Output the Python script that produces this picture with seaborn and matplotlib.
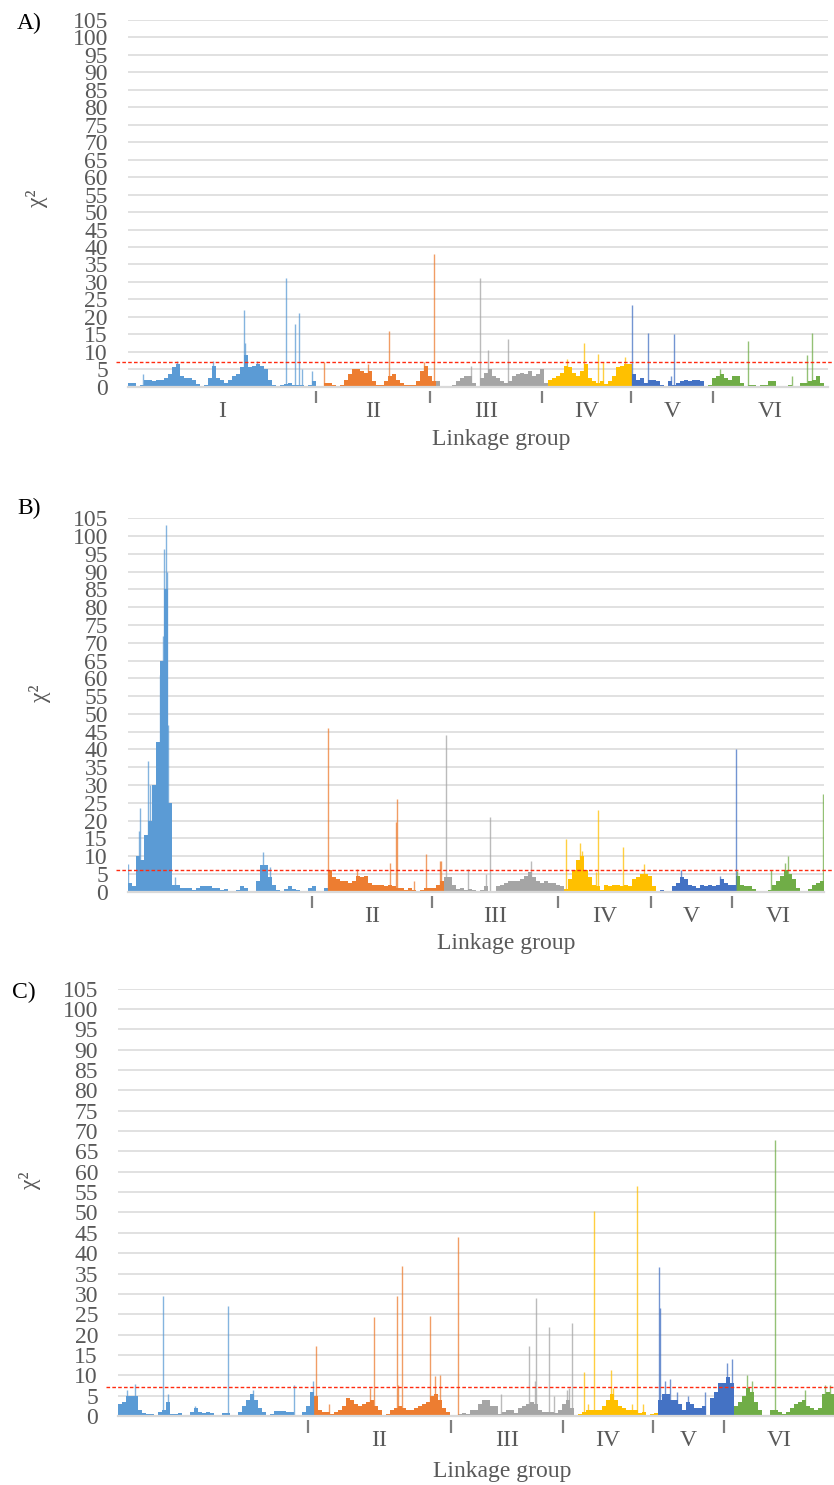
import numpy as np
import pandas as pd
import matplotlib
matplotlib.use("Agg")
import matplotlib.pyplot as plt
import seaborn as sns

# linkage groups and their (Excel office) colours
group_names = ["I", "II", "III", "IV", "V", "VI"]
group_colors = ["#5B9BD5", "#ED7D31", "#A5A5A5", "#FFC000", "#4472C4", "#70AD47"]
y_ticks = list(range(0, 106, 5))

# ---------------- panel A ----------------
# chi2 per marker bin
a_chi2 = [1, 1.2, 0.3, 0.5, 2, 2, 1.5, 2, 2, 2.5, 3.5, 5.5, 6.5, 3, 2.5, 2.5, 2, 0.8, 0.3, 0.5,
          2.5, 6, 2.5, 2, 1, 2, 3, 3.5, 5.5, 9, 5.5, 6, 6.5, 6, 5, 2, 0.5, 0.3, 0.5, 0.8,
          1, 0.5, 0.5, 0.5, 0.1, 0.5, 1.5,
          0.3, 0.3, 1, 1, 0.5, 0.3, 0.5, 2, 3.5, 5, 5, 4.5, 4, 4.5, 1.5, 0.5, 0.5, 1.5, 3, 3.5,
          2, 1, 0.5, 0.5, 0.5, 1.5, 4.5, 6, 3,
          1.5, 1.5, 0.3, 0.2, 0.3, 0.5, 1.5, 2.5, 3, 3, 1, 0.3, 2.5, 4, 5, 3, 2.5, 1.5, 1, 1.5,
          3, 3.5, 4, 3.5, 4.5, 3, 3.5, 5,
          1, 2, 2.5, 3, 4, 6, 5.5, 4, 3, 4.5, 6.5, 2.5, 1.5, 1, 1.5, 0.8, 1.5, 3, 5.5, 6, 6.5, 6.5,
          3.5, 2, 2.5, 1, 2, 2, 1.5, 0.5, 0.2, 1.5, 0.5, 1, 1.5, 2, 1.5, 2, 2, 1.5, 0, 0.5,
          2.5, 3, 3.5, 2.5, 2, 3, 3, 1, 0.3, 0.5, 0.5, 0.3, 0.5, 0.5, 1.5, 1.5, 0.2, 0.1, 0.1, 0.5,
          0.1, 0.3, 1, 1, 1.5, 2, 3, 1, 0.3]
a_group_sizes = [49, 28, 28, 21, 19, 30]
a_spike_pos = [3.8, 12.2, 21.2, 29.1, 29.3, 32.2, 39.4, 41.75, 42.75, 43.5, 45.9,
               49.0, 60.1, 65.2, 74.0, 76.6,
               85.75, 88.0, 90.1, 95.0,
               109.7, 114.1, 117.6, 118.8, 124.25,
               126.1, 130.1, 135.8, 136.6,
               148.0, 155.1, 165.9, 169.7, 171.1]
a_spike_chi2 = [3.5, 7.5, 7.5, 22, 12.5, 7.5, 31, 18, 21, 5, 4.5,
                7, 6.5, 16, 7, 38,
                6, 31, 10.5, 13.6,
                8, 12.5, 9.5, 7, 8.5,
                23.5, 15.5, 3, 15,
                5, 13, 3, 9, 15.5]
a_threshold = 7.0
a_separators = [47, 75.5, 103.5, 125.75, 146.25]

# ---------------- panel B ----------------
b_chi2 = [2.5, 1.5, 10, 9, 16, 20, 30, 42, 65, 85, 25, 2, 2, 1, 1, 1, 0.5, 1, 1.5, 1.5,
          1.5, 1, 1, 0.5, 0.8, 0.3, 0.3, 0.5, 1.5, 1, 0.3, 0.2, 3, 7.5, 7.5, 4, 2, 0.5, 0.3, 0.8,
          1.5, 0.8, 0.5, 0.2, 0.3, 1,
          1.5, 0.3, 0.3, 1, 6, 4, 3.5, 3, 3, 2.5, 3, 4.5, 4, 4.5, 2.5, 2, 2, 2, 1.5, 2,
          1.5, 1, 1, 0.5, 1, 0.5, 0.3, 0.5, 1, 1,
          1, 2, 3, 4, 4, 2, 0.8, 1, 0.5, 0.8, 0.5, 0.3, 0.5, 1.5, 0.3, 0.3, 1.5, 2, 2.5, 3,
          3, 3, 3.5, 4.5, 5.5, 4, 3, 2.5, 3, 2.5, 2.5,
          2, 1.5, 0.8, 3.5, 6, 9, 10, 6, 4, 2, 1.5, 0.5, 2, 1.5, 2, 2, 1.5, 2, 1.5, 3.5,
          4, 5, 5, 4.5,
          1.5, 0.2, 0.5, 0.1, 0.1, 1.5, 2.5, 4, 3.5, 2, 1.5, 1, 2, 1.5, 2, 1.5, 2, 3.5, 2.5, 2,
          2, 4.5, 2, 1.5, 1.5, 0.8, 0.3, 0.2, 0.2, 0.5, 2, 3, 4.5, 6, 5, 3.5, 1, 0.2, 0.2, 0.8,
          2, 2.5, 3]
b_group_sizes = [50, 29, 30, 23, 20, 22]
b_spike_pos = [0.1, 2.8, 3.1, 5.1, 5.5, 8.0, 8.7, 9.1, 9.5, 9.8, 10.1, 11.75, 33.8, 35.5,
               50.05, 57.2, 65.4, 67.0, 67.2, 71.4, 74.4, 77.9, 78.3,
               79.6, 85.1, 89.5, 90.4, 100.75,
               109.6, 113.0, 113.4, 117.0, 117.6, 123.8, 129.0,
               138.2, 148.0, 151.9,
               152.2, 160.75, 164.25, 165.1, 173.8]
b_spike_chi2 = [7.8, 17, 23.4, 36.7, 30, 61, 72, 96.5, 103, 90, 47, 4, 11.2, 7,
                46, 6.5, 8, 19.5, 26, 3, 10.7, 8.5, 8.5,
                44, 6.5, 5, 21, 8.6,
                14.8, 13.8, 11.5, 5.4, 22.9, 12.6, 7.8,
                6, 4.5, 40,
                5.9, 6, 8, 10.1, 27.4]
b_threshold = 6.1
b_separators = [46, 76, 107.4, 130.75, 150.9]

# ---------------- panel C ----------------
c_chi2 = [3, 3.5, 5, 5, 5, 1.5, 0.8, 0.5, 0.5, 0.3, 1, 1.5, 3.5, 0.5, 0.5, 0.8, 0.2, 0.2, 1, 2,
          1, 0.8, 1, 0.8, 0.2, 0.2, 0.8, 0.8, 0.3, 0.3, 1, 2.5, 4, 5.5, 4, 2, 1, 0.3, 0.5, 1.2,
          1.2, 1.2, 1, 1, 0.3, 0.2, 1, 2.5,
          6, 5, 1.5, 1, 1, 0.5, 1, 1.5, 2.5, 4.5, 4, 3, 2.5, 3, 3.5, 4, 2.5, 1.5, 0.3, 0.5,
          1.5, 2, 2.5, 2, 1.5, 1.5, 2, 2.5, 3, 3.5, 5, 5.5, 4, 2, 1,
          0.3, 0.3, 0.5, 0.8, 0.5, 1.5, 1.5, 3, 4, 4, 2.5, 2.5, 0.5, 1, 1.5, 1.5, 0.8, 2, 2.5, 3,
          3.5, 3, 1.5, 1, 1, 1, 0.8, 1.5,
          3, 4, 2, 0.3, 0.5, 1, 1.5, 1.5, 1.5, 1.5, 2.5, 4, 5.5, 4, 2.5, 2, 1.5, 1.5, 1.5, 0.8,
          1, 0.3, 0.5,
          0.8, 4, 5.5, 5.5, 4, 4, 3, 1.5, 3.5, 3, 2, 2, 2.5, 0.3, 4.5, 6, 8,
          8, 9.5, 8, 2.5, 3.5, 5, 7, 6, 3.5, 1.5, 0.3, 0.3, 1.5, 1.5, 1, 0.5, 1, 2, 3, 3.5,
          4, 2.5, 2, 1.5, 2, 5.5, 6, 5.5]
c_group_sizes = [49, 36, 29, 21, 19, 25]
c_spike_pos = [2.2, 4.25, 11.3, 12.6, 19.25, 27.6, 33.7, 44.1, 48.8,
               49.4, 52.8, 63.0, 64.1, 69.7, 69.9, 71.1, 78.0, 79.25, 80.5, 84.9,
               95.75, 102.8, 104.3, 104.5, 107.8, 109.1, 112.2, 112.75, 113.4,
               116.6, 117.6, 119.0, 123.25, 123.7, 128.4, 129.75, 131.3,
               135.3, 135.4, 136.75, 138.0, 139.7, 142.6, 146.75, 152.2, 153.4,
               157.2, 158.4, 164.25, 171.75, 176.75, 178.0]
c_spike_chi2 = [6.5, 7.8, 29.5, 5.5, 2.5, 27, 6.5, 7.6, 8.5,
                17.2, 3, 7, 24.4, 29.5, 7.5, 36.8, 24.5, 9.9, 10, 44,
                5.5, 17.3, 8.5, 28.9, 21.8, 5, 6.5, 7, 22.8,
                10.8, 3, 50.4, 11.3, 7, 3, 56.5, 3,
                36.5, 26.5, 8.5, 9, 6, 5, 6, 13, 14,
                10.1, 8.5, 67.8, 6.5, 7.5, 7.5]
c_threshold = 7.1
c_separators = [47.5, 83.2, 111.25, 133.7, 151.5]

FIG_W, FIG_H = 834, 1485
GREY = "#595959"
FS = 17

sns.set_theme(style="white")
plt.rcParams["font.family"] = ["Liberation Serif", "DejaVu Serif"]

palette = dict(zip(group_names, group_colors))


def px_axes(left, right, top, bottom):
    """axes rectangle from pixel box of the reference"""
    return [left / FIG_W, 1 - bottom / FIG_H, (right - left) / FIG_W, (bottom - top) / FIG_H]


def draw_panel(ax, chi2, sizes, spike_pos, spike_chi2, threshold, separators, show_first):
    n = len(chi2)
    df = pd.DataFrame({
        "pos": np.arange(n) + 0.5,
        "chi2": chi2,
        "group": np.repeat(group_names, sizes[:len(group_names)])[:n],
    })
    sns.barplot(data=df, x="pos", y="chi2", hue="group", hue_order=group_names,
                palette=palette, native_scale=True, dodge=False, width=1.0,
                errorbar=None, legend=False, saturation=1, linewidth=0, ax=ax, zorder=2)

    # single markers with a high value drawn as thin lines
    bounds = np.cumsum(sizes)
    idx = np.searchsorted(bounds, np.floor(spike_pos), side="right")
    spike_cols = [group_colors[min(i, 5)] for i in idx]
    ax.vlines(spike_pos, 0, spike_chi2, colors=spike_cols, linewidth=1.0, alpha=0.75, zorder=2.5)

    ax.set_xlim(0, n)
    ax.set_ylim(0, 105)
    ax.set_yticks(y_ticks)
    ax.set_xticks([])
    ax.set_xlabel("")
    ax.set_ylabel("")
    ax.grid(axis="y", color="#d9d9d9", linewidth=1.1)
    ax.set_axisbelow(True)
    for side in ["top", "right", "left"]:
        ax.spines[side].set_visible(False)
    ax.spines["bottom"].set_color("#d9d9d9")
    ax.spines["bottom"].set_linewidth(1.6)
    ax.tick_params(axis="y", length=0, pad=14.4, labelsize=FS, labelcolor=GREY)

    # threshold line, sticking out a little past the plot like in Excel
    w_px = ax.get_position().width * FIG_W
    h_px = ax.get_position().height * FIG_H
    ax.axhline(threshold, xmin=-12 / w_px, xmax=1 + 8 / w_px, color="#ff2b10",
               linewidth=1.0, linestyle=(0, (2.6, 1.6)), clip_on=False, zorder=3)

    # group separator ticks and labels under the axis
    tr = ax.get_xaxis_transform()
    ax.vlines(separators, -16.5 / h_px, -4 / h_px, transform=tr, colors="#7f7f7f",
              linewidth=1.6, clip_on=False)
    edges = [0] + list(separators) + [n]
    for i, name in enumerate(group_names):
        if i == 0 and not show_first:
            continue
        xc = (edges[i] + edges[i + 1]) / 2
        ax.annotate(name, xy=(xc, 0), xycoords=tr, xytext=(0, -25 * 0.72),
                    textcoords="offset points", ha="center", va="center",
                    fontsize=FS, color=GREY)


fig = plt.figure(figsize=(FIG_W / 100, FIG_H / 100), dpi=100)

ax_a = fig.add_axes(px_axes(128, 828, 20, 386.7))
ax_b = fig.add_axes(px_axes(128, 824, 518.3, 891.7))
ax_c = fig.add_axes(px_axes(118, 834, 988.6, 1416))

draw_panel(ax_a, a_chi2, a_group_sizes, a_spike_pos, a_spike_chi2, a_threshold, a_separators, True)
draw_panel(ax_b, b_chi2, b_group_sizes, b_spike_pos, b_spike_chi2, b_threshold, b_separators, False)
draw_panel(ax_c, c_chi2, c_group_sizes, c_spike_pos, c_spike_chi2, c_threshold, c_separators, False)


def ftext(x, y, s, **kw):
    fig.text(x / FIG_W, 1 - y / FIG_H, s, ha="center", va="center", fontsize=FS, **kw)


# panel letters, axis titles
ftext(29, 23, "A)", color="black")
ftext(29, 508, "B)", color="black")
ftext(24, 992, "C)", color="black")
ftext(37, 198, "χ²", color=GREY, rotation=90)
ftext(40, 693, "χ²", color=GREY, rotation=90)
ftext(30, 1180, "χ²", color=GREY, rotation=90)
ftext(501, 439, "Linkage group", color=GREY)
ftext(506, 944, "Linkage group", color=GREY)
ftext(502, 1472, "Linkage group", color=GREY)

fig.savefig("out.png", dpi=100)
